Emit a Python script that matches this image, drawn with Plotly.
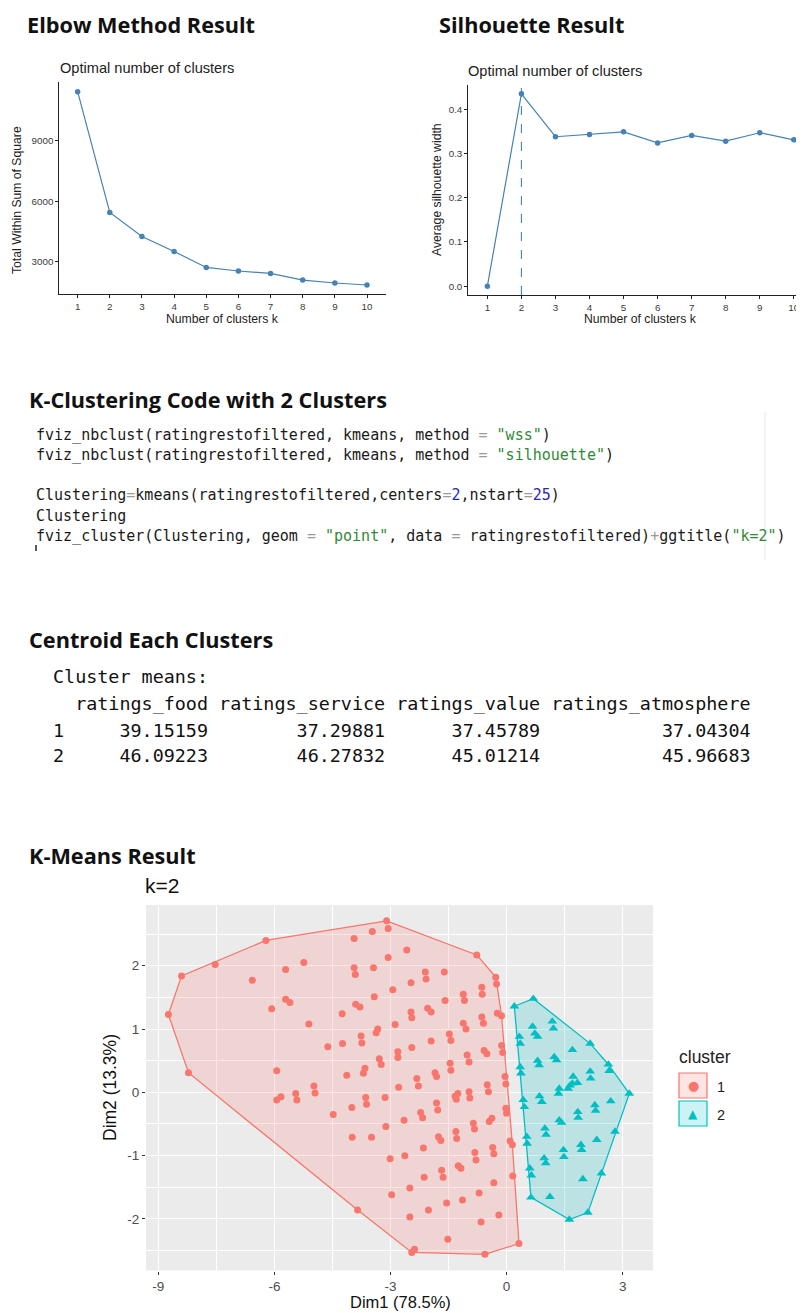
import plotly.graph_objects as go

# The page body has an 8px default margin, so the figure is drawn 8px in from the corner.
PAGE_W, PAGE_H, OFF = 804, 1313, 8
FW, FH = PAGE_W - OFF, PAGE_H - OFF

# ---------------- data ----------------
k_values = list(range(1, 11))
wss_values = [11430, 5445, 4255, 3510, 2717, 2540, 2420, 2090, 1945, 1845]
silhouette_values = [0.0, 0.435, 0.338, 0.343, 0.349, 0.324, 0.341, 0.328, 0.347, 0.331]
elbow_y_ticks = [3000, 6000, 9000]
sil_y_ticks = [0.0, 0.1, 0.2, 0.3, 0.4]

centroid_columns = ["ratings_food", "ratings_service", "ratings_value", "ratings_atmosphere"]
centroid_cluster1 = [39.15159, 37.29881, 37.45789, 37.04304]
centroid_cluster2 = [46.09223, 46.27832, 45.01214, 45.96683]

cluster1_dim1 = [
    -3.10, -3.47, -3.06, -3.94, -3.06, -5.24, -5.71, -3.94, -3.91, -3.44,
    -6.57, -7.53, -8.40, -8.74, -6.22, -2.94, -3.42, -5.71, -5.60, -6.07,
    -3.90, -3.79, -4.25, -5.11, -2.88, -3.33, -3.37, -3.76, -3.74, -4.62,
    -4.24, -2.81, -2.81, -3.29, -3.24, -5.94, -8.22, -4.13, -3.66, -3.70,
    -5.94, -5.83, -5.45, -5.42, -4.98, -4.95, -4.48, -4.00, -3.64, -3.62,
    -3.14, -2.79, -3.99, -3.49, -3.12, -3.01, -2.97, -3.85,
    -2.58, -2.10, -2.08, -1.61, -0.77, -0.28, -0.26, -2.47, -0.64, -0.63,
    -1.12, -1.09, -1.59, -2.47, -2.45, -2.04, -1.95, -0.64, -0.60, -0.24,
    -0.13, -1.12, -1.05, -1.48, -1.44, -1.95, -2.45, -0.13, -0.10, -0.58,
    -0.51, -1.02, -0.97, -1.46, -1.44, -1.85, -1.81, -2.32, -0.04,
    -2.28, -1.33, -1.26, -1.30, -0.97, -0.95, -0.50, -0.47, -0.02, -1.81,
    -1.78, -2.22, -2.17, -2.65, -0.86, -0.83, -0.45, -0.38, -0.02, 0.00,
    -1.31, -1.29, -1.76, -1.70, -2.15, -2.63, -0.82, -0.79, -0.36, -0.33,
    0.09, 0.15, -1.68, -1.64, -1.25, -1.18, -2.13, -2.50, 0.16, -0.33,
    -0.71, -1.14, -1.55, -2.02, -2.50, -0.66, -0.20, -1.52, -2.45, -2.38,
    -0.56, 0.32,
]
cluster1_dim2 = [
    2.71, 2.54, 2.59, 2.43, 2.13, 2.05, 1.94, 1.97, 1.86, 1.97,
    1.77, 2.02, 1.84, 1.23, 2.40, 1.62, 1.51, 1.47, 1.42, 1.32,
    1.39, 1.35, 1.24, 1.08, 1.07, 1.00, 0.94, 0.89, 0.78, 0.72,
    0.77, 0.64, 0.55, 0.53, 0.44, 0.34, 0.31, 0.27, 0.38, 0.30,
    -0.12, -0.07, -0.02, -0.12, 0.10, -0.01, -0.35, -0.24, -0.08, -0.19,
    -0.08, 0.08, -0.71, -0.71, -0.54, -1.05, -1.62, -1.86,
    2.25, 1.90, 1.79, 1.90, 2.17, 1.82, 1.71, 1.73, 1.66, 1.55,
    1.55, 1.45, 1.45, 1.27, 1.18, 1.33, 1.27, 1.19, 1.09, 1.25,
    1.21, 1.09, 1.00, 0.92, 0.82, 0.81, 0.71, 0.74, 0.63, 0.66,
    0.61, 0.59, 0.48, 0.46, 0.35, 0.31, 0.25, 0.22, 0.25,
    0.10, -0.06, -0.02, -0.11, 0.01, -0.09, 0.12, 0.01, 0.13, -0.17,
    -0.28, -0.32, -0.40, -0.44, -0.49, -0.58, -0.46, -0.41, -0.25, -0.33,
    -0.62, -0.73, -0.70, -0.76, -0.88, -1.00, -0.95, -1.07, -0.87, -0.97,
    -0.77, -0.83, -1.23, -1.34, -1.16, -1.20, -1.34, -1.51, -1.32, -1.43,
    -1.59, -1.70, -1.75, -1.86, -1.97, -2.05, -1.94, -2.32, -2.53, -2.48,
    -2.56, -2.39,
]
cluster2_dim1 = [
    0.20, 0.69, 0.67, 0.73, 0.80, 1.18, 1.21, 0.33, 0.35, 2.16,
    1.70, 0.80, 0.84, 1.23, 1.29, 0.35, 0.37, 2.63, 2.65, 2.16,
    1.72, 2.17, 1.64, 1.59, 1.70, 1.83, 1.36, 1.34, 3.17, 0.43,
    0.46, 0.85, 0.91, 2.28, 2.30, 2.69, 1.84, 1.85, 1.36, 1.42,
    0.99, 1.02, 2.80, 0.52, 0.53, 2.33, 1.92, 1.94, 1.47, 1.48,
    0.97, 1.01, 0.60, 0.64, 2.45, 1.97, 0.63, 1.12, 2.10, 1.62,
]
cluster2_dim2 = [
    1.36, 1.48, 1.04, 0.93, 0.88, 1.12, 1.01, 0.88, 0.77, 0.77,
    0.67, 0.50, 0.43, 0.56, 0.51, 0.40, 0.30, 0.44, 0.34, 0.33,
    0.25, 0.22, 0.11, 0.06, 0.14, 0.15, 0.06, -0.02, -0.02, -0.12,
    -0.23, -0.06, -0.15, -0.20, -0.29, -0.14, -0.31, -0.40, -0.44, -0.48,
    -0.57, -0.67, -0.62, -0.70, -0.81, -0.75, -0.83, -0.91, -0.91, -1.02,
    -1.04, -1.12, -1.20, -1.31, -1.28, -1.37, -1.66, -1.65, -1.90, -2.01,
]
pca_x_ticks = [-9, -6, -3, 0, 3]
pca_y_ticks = [-2, -1, 0, 1, 2]

cluster_names = ["1", "2"]
cluster_colors = ["#F8766D", "#00BFC4"]
cluster_fills = ["rgba(248,118,109,0.2)", "rgba(0,191,196,0.2)"]

code_lines = [
    [("fviz_nbclust(ratingrestofiltered, kmeans, method ", None), ("=", "op"), (" ", None), ('"wss"', "str"), (")", None)],
    [("fviz_nbclust(ratingrestofiltered, kmeans, method ", None), ("=", "op"), (" ", None), ('"silhouette"', "str"), (")", None)],
    None,
    [("Clustering", None), ("=", "op"), ("kmeans(ratingrestofiltered,centers", None), ("=", "op"), ("2", "num"),
     (",nstart", None), ("=", "op"), ("25", "num"), (")", None)],
    [("Clustering", None)],
    [("fviz_cluster(Clustering, geom ", None), ("=", "op"), (" ", None), ('"point"', "str"), (", data ", None),
     ("=", "op"), (" ratingrestofiltered)", None), ("+", "op"), ("ggtitle(", None), ('"k=2"', "str"), (")", None)],
]


# ---------------- helpers ----------------
def px(x):
    return (x - OFF) / FW


def py(y):
    return 1 - (y - OFF) / FH


def convex_hull(xs, ys):
    pts = sorted(set(zip(xs, ys)))

    def cross(o, a, b):
        return (a[0] - o[0]) * (b[1] - o[1]) - (a[1] - o[1]) * (b[0] - o[0])

    lower = []
    for p in pts:
        while len(lower) >= 2 and cross(lower[-2], lower[-1], p) <= 0:
            lower.pop()
        lower.append(p)
    upper = []
    for p in reversed(pts):
        while len(upper) >= 2 and cross(upper[-2], upper[-1], p) <= 0:
            upper.pop()
        upper.append(p)
    hull = lower[:-1] + upper[:-1]
    hull.append(hull[0])
    return [p[0] for p in hull], [p[1] for p in hull]


NB = "\u00a0"
code_colors = {None: "#1a1a1a", "op": "#9a9a9a", "str": "#2f8a35", "num": "#2a2ab0"}


def render_code(parts):
    out = []
    for txt, kind in parts:
        t = txt.replace(" ", NB)
        out.append('<span style="color:%s">%s</span>' % (code_colors[kind], t))
    return "".join(out)


ann = []
shapes = []


def text(x, y, s, size, color="#111", family="Liberation Sans", xanchor="left", bold=False, textangle=0):
    ann.append(dict(
        x=px(x), y=py(y), xref="paper", yref="paper", text=("<b>%s</b>" % s) if bold else s,
        showarrow=False, xanchor=xanchor, yanchor="middle", textangle=textangle,
        font=dict(size=size, color=color, family=family), borderpad=0,
    ))


fig = go.Figure()

# ---------------- elbow ----------------
line_col = "#4682B4"
fig.add_trace(go.Scatter(x=k_values, y=wss_values, mode="lines+markers", xaxis="x", yaxis="y",
                         line=dict(color=line_col, width=1.2), marker=dict(color=line_col, size=5.5),
                         showlegend=False, hoverinfo="skip"))

# ---------------- silhouette ----------------
fig.add_trace(go.Scatter(x=k_values, y=silhouette_values, mode="lines+markers", xaxis="x2", yaxis="y2",
                         line=dict(color=line_col, width=1.2), marker=dict(color=line_col, size=5.5),
                         showlegend=False, hoverinfo="skip"))
k_opt = k_values[silhouette_values.index(max(silhouette_values))]
shapes.append(dict(type="line", xref="x2", yref="y2 domain", x0=k_opt, x1=k_opt, y0=0, y1=1,
                   line=dict(color=line_col, width=1.1, dash="dash")))

# ---------------- cluster plot ----------------
dims = [(cluster1_dim1, cluster1_dim2), (cluster2_dim1, cluster2_dim2)]
symbols = ["circle", "triangle-up"]
sizes = [7, 8.5]
for i, (dx, dy) in enumerate(dims):
    hx, hy = convex_hull(dx, dy)
    fig.add_trace(go.Scatter(x=hx, y=hy, mode="lines", fill="toself", fillcolor=cluster_fills[i],
                             line=dict(color=cluster_colors[i], width=1.3), xaxis="x3", yaxis="y3",
                             showlegend=False, hoverinfo="skip"))
for i, (dx, dy) in enumerate(dims):
    fig.add_trace(go.Scatter(x=dx, y=dy, mode="markers", xaxis="x3", yaxis="y3",
                             marker=dict(color=cluster_colors[i], size=sizes[i], symbol=symbols[i],
                                         line=dict(width=0)),
                             showlegend=False, hoverinfo="skip"))

shapes.append(dict(type="rect", xref="x3 domain", yref="y3 domain", x0=0, x1=1, y0=0, y1=1,
                   fillcolor="#EBEBEB", line=dict(width=0), layer="below"))

# legend (drawn like ggplot's keys)
text(678, 1057, "cluster", 17.5, color="#222")
legend_y = [1085.5, 1113.5]
glyphs = ["\u25CF", "\u25B2"]
for i, name in enumerate(cluster_names):
    yc = legend_y[i]
    shapes.append(dict(type="rect", xref="paper", yref="paper", x0=px(679), x1=px(707),
                       y0=py(yc + 12.5), y1=py(yc - 12.5), fillcolor=cluster_fills[i],
                       line=dict(color=cluster_colors[i], width=1.2)))
    text(693, yc, glyphs[i], 13 if i == 0 else 12, color=cluster_colors[i], family="DejaVu Sans", xanchor="center")
    text(716, yc + 1, name, 14.5, color="#222")

# ---------------- text blocks ----------------
HFONT = "Open Sans"
HSIZE = 21.7
text(26, 24, "Elbow Method Result", HSIZE, family=HFONT, bold=True)
text(438, 24, "Silhouette Result", HSIZE, family=HFONT, bold=True)
text(28, 400, "K-Clustering Code with 2 Clusters", HSIZE, family=HFONT, bold=True)
text(28, 640, "Centroid Each Clusters", HSIZE, family=HFONT, bold=True)
text(28, 855, "K-Means Result", HSIZE, family=HFONT, bold=True)

text(59, 68, "Optimal number of clusters", 14.6, color="#222")
text(467, 71, "Optimal number of clusters", 14.6, color="#222")
text(223, 319, "Number of clusters k", 12.2, color="#222", xanchor="center")
text(640, 319, "Number of clusters k", 12.2, color="#222", xanchor="center")
text(17, 200, "Total Within Sum of Square", 12.2, color="#222", xanchor="center", textangle=-90)
text(437, 190, "Average silhouette width", 12.2, color="#222", xanchor="center", textangle=-90)

text(144, 885, "k=2", 21, color="#111")
text(400, 1302, "Dim1 (78.5%)", 16.5, color="#111", xanchor="center")
text(110, 1088, "Dim2 (13.3%)", 17.5, color="#111", xanchor="center", textangle=-90)

# code block
code_y = [435, 455, None, 495, 516, 536]
for parts, yy in zip(code_lines, code_y):
    if parts is None:
        continue
    text(35, yy, render_code(parts), 15, family="DejaVu Sans Mono")
shapes.append(dict(type="line", xref="paper", yref="paper", x0=px(765), x1=px(765), y0=py(412), y1=py(560),
                   line=dict(color="#e6e6e6", width=1)))
shapes.append(dict(type="line", xref="paper", yref="paper", x0=px(36), x1=px(36), y0=py(545), y1=py(551),
                   line=dict(color="#222", width=1.5)))

# centroid table
widths = [max(len(c), 8) for c in centroid_columns]
header = " " + "".join(" " + c.rjust(w) for c, w in zip(centroid_columns, widths))
rows = [header]
for label, vals in zip(cluster_names, [centroid_cluster1, centroid_cluster2]):
    rows.append(label + "".join(" " + ("%.5f" % v).rjust(w) for v, w in zip(vals, widths)))
table_y = [677, 703, 730, 755]
for s, yy in zip(["Cluster means:"] + rows, table_y):
    text(52, yy, s.replace(" ", NB), 18.4, family="DejaVu Sans Mono", color="#111")

# ---------------- axes ----------------
tick_font = dict(family="Liberation Sans", size=9.8, color="#3a3a3a")
classic = dict(showline=True, linecolor="#222", linewidth=1, ticks="outside", ticklen=3, tickcolor="#222",
               showgrid=False, zeroline=False, tickfont=tick_font, ticklabeloverflow="allow")
pca_tick_font = dict(family="Liberation Sans", size=13.5, color="#4D4D4D")

fig.update_layout(
    width=FW, height=FH, margin=dict(l=0, r=0, t=0, b=0),
    paper_bgcolor="white", plot_bgcolor="white", showlegend=False,
    xaxis=dict(domain=[px(59.3), px(386)], range=[0.43, 10.59], tickvals=k_values,
               ticktext=[str(k) for k in k_values], anchor="y", **classic),
    yaxis=dict(domain=[py(294), py(81.7)], range=[1400, 11926], tickvals=elbow_y_ticks,
               ticktext=[str(v) for v in elbow_y_ticks], anchor="x", **classic),
    xaxis2=dict(domain=[px(468.3), 1.0], range=[0.44, 10.30], tickvals=k_values,
                ticktext=[str(k) for k in k_values], anchor="y2", **classic),
    yaxis2=dict(domain=[py(295), py(85)], range=[-0.020, 0.455], tickvals=sil_y_ticks,
                ticktext=["%.1f" % v for v in sil_y_ticks], anchor="x2", **classic),
    xaxis3=dict(domain=[px(146), px(653)], range=[-9.318, 3.783], tickvals=pca_x_ticks,
                ticktext=[str(v) for v in pca_x_ticks], anchor="y3",
                showgrid=True, gridcolor="white", gridwidth=1.2, zeroline=False, showline=False,
                ticks="outside", ticklen=3, tickcolor="#333", tickwidth=1.2, tickfont=pca_tick_font,
                minor=dict(dtick=1.5, tick0=0, showgrid=True, gridcolor="white", gridwidth=0.6, ticks="")),
    yaxis3=dict(domain=[py(1270.5), py(905)], range=[-2.815, 2.96], tickvals=pca_y_ticks,
                ticktext=[str(v) for v in pca_y_ticks], anchor="x3",
                showgrid=True, gridcolor="white", gridwidth=1.2, zeroline=False, showline=False,
                ticks="outside", ticklen=3, tickcolor="#333", tickwidth=1.2, tickfont=pca_tick_font,
                minor=dict(dtick=0.5, tick0=0, showgrid=True, gridcolor="white", gridwidth=0.6, ticks="")),
    annotations=ann,
    shapes=shapes,
)

fig.write_html("out.html")
